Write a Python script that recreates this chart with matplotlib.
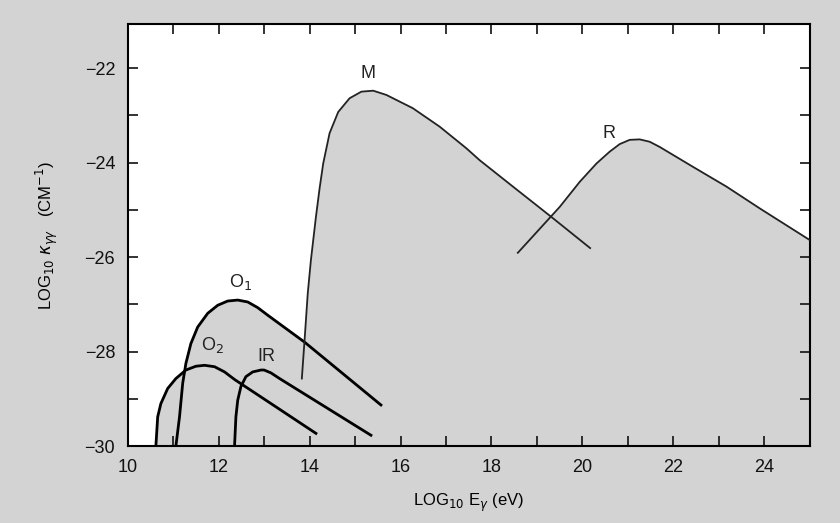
import numpy as np
import matplotlib
matplotlib.use('Agg')
import matplotlib.pyplot as plt

# curves (x = log10 E, y = log10 kappa)
o2_x = [10.62, 10.66, 10.73, 10.88, 11.06, 11.28, 11.50, 11.69, 11.91, 12.13, 12.35, 13.23, 14.14]
o2_y = [-30.0, -29.38, -29.10, -28.78, -28.57, -28.39, -28.31, -28.29, -28.32, -28.43, -28.59, -29.15, -29.73]

o1_x = [11.06, 11.14, 11.21, 11.28, 11.39, 11.54, 11.76, 11.98, 12.20, 12.42, 12.64, 12.86, 13.08, 13.89, 15.57]
o1_y = [-30.0, -29.38, -28.67, -28.25, -27.83, -27.48, -27.19, -27.02, -26.93, -26.91, -26.95, -27.07, -27.23, -27.80, -29.13]

ir_x = [12.35, 12.38, 12.42, 12.49, 12.60, 12.75, 12.93, 13.00, 13.15, 13.34, 15.35]
ir_y = [-30.0, -29.38, -29.03, -28.74, -28.53, -28.43, -28.39, -28.39, -28.45, -28.57, -29.77]

m_x = [13.83, 13.89, 13.96, 14.03, 14.14, 14.22, 14.30, 14.44, 14.63, 14.88, 15.14, 15.40, 15.69,
       16.27, 16.86, 17.45, 17.74, 18.50, 19.29, 20.17]
m_y = [-28.57, -27.76, -26.77, -26.06, -25.15, -24.55, -24.02, -23.38, -22.93, -22.64, -22.50, -22.48, -22.57,
       -22.85, -23.24, -23.70, -23.95, -24.53, -25.13, -25.81]

r_x = [18.58, 19.50, 19.94, 20.31, 20.60, 20.82, 21.04, 21.26, 21.48, 21.70, 22.43, 23.17, 23.90, 25.00]
r_y = [-25.91, -24.94, -24.41, -24.02, -23.77, -23.61, -23.52, -23.51, -23.56, -23.67, -24.09, -24.51, -24.97, -25.64]

labels = ['M', 'R', 'O$_1$', 'O$_2$', 'IR']
label_x = [15.29, 20.59, 12.49, 11.87, 13.04]
label_y = [-22.11, -23.38, -26.52, -27.86, -28.11]

gray = '#d3d3d3'
plt.rcParams['font.family'] = ['Liberation Sans', 'DejaVu Sans']

fig = plt.figure(figsize=(8.4, 5.23), dpi=100, facecolor=gray)
ax = fig.add_axes([0.152, 0.147, 0.812, 0.807])
ax.set_facecolor('white')

# shaded region under all curves
for xs, ys in [(o2_x, o2_y), (o1_x, o1_y), (ir_x, ir_y), (m_x, m_y), (r_x, r_y)]:
    ax.fill_between(xs, -30, ys, color=gray, linewidth=0, zorder=1)

ax.plot(o2_x, o2_y, color='black', lw=2.0, zorder=3, solid_joinstyle='round')
ax.plot(o1_x, o1_y, color='black', lw=2.0, zorder=3, solid_joinstyle='round')
ax.plot(ir_x, ir_y, color='black', lw=2.0, zorder=3, solid_joinstyle='round')
ax.plot(m_x, m_y, color='#222222', lw=1.3, zorder=3, solid_joinstyle='round')
ax.plot(r_x, r_y, color='#222222', lw=1.3, zorder=3, solid_joinstyle='round')

for t, x, y in zip(labels, label_x, label_y):
    ax.text(x, y, t, fontsize=13, ha='center', va='center', color='#222222')

ax.set_xlim(10, 25)
ax.set_ylim(-30, -21.07)
ax.set_xticks(range(10, 25, 2))
ax.set_xticks(range(10, 26), minor=True)
ax.set_yticks(range(-30, -21, 2))
ax.set_yticks(range(-30, -21), minor=True)
ax.tick_params(which='both', direction='in', top=True, right=True, length=7, width=1.2,
               labelsize=13, pad=9, colors='#111111')
for s in ax.spines.values():
    s.set_linewidth(1.5)

ax.set_xlabel('LOG$_{10}$ E$_\\gamma$ (eV)', fontsize=12, labelpad=12)
ax.set_ylabel('LOG$_{10}$ $\\kappa_{\\gamma\\gamma}$   (CM$^{-1}$)', fontsize=12, labelpad=18)

fig.savefig('out.png', dpi=100, facecolor=gray)
